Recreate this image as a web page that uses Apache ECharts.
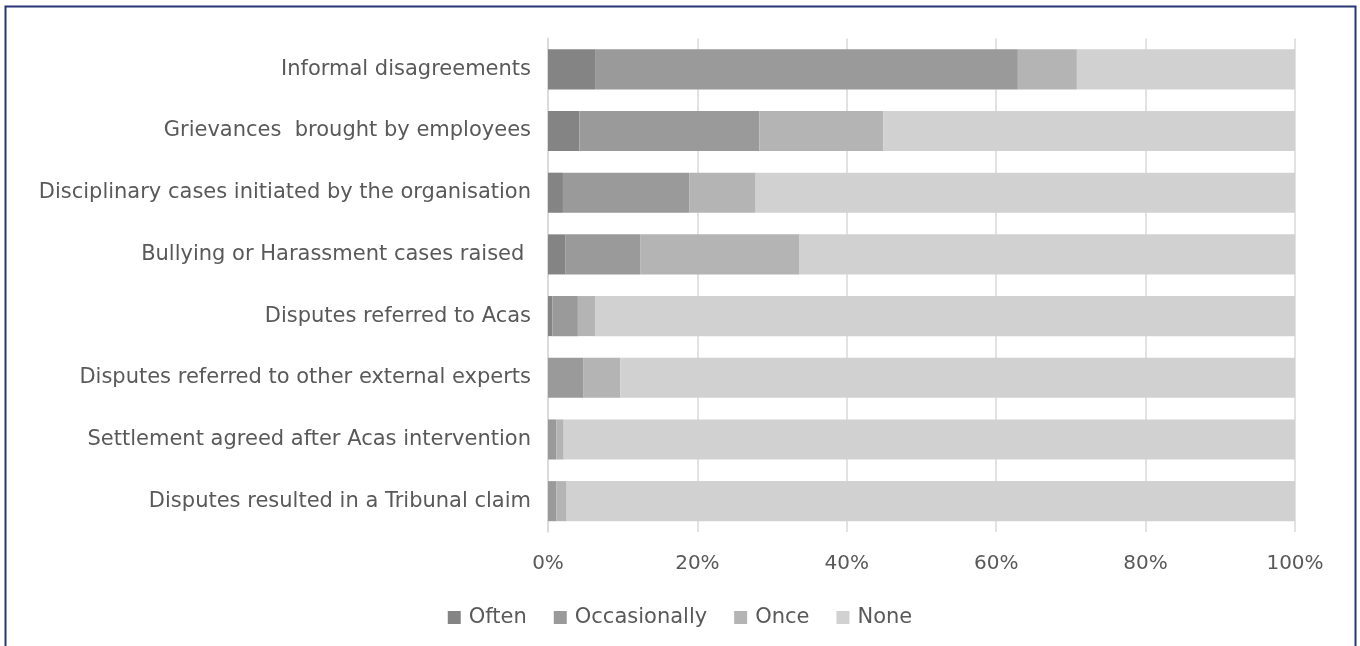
<!DOCTYPE html>
<html>
<head>
<meta charset="utf-8">
<script src="https://cdn.jsdelivr.net/npm/echarts@6/dist/echarts.min.js"></script>
<style>
html,body{margin:0;padding:0;background:#fff;}
#chart{width:1360px;height:646px;}
</style>
</head>
<body>
<div id="chart"></div>
<script>
const categories = [
  "Informal disagreements",
  "Grievances  brought by employees",
  "Disciplinary cases initiated by the organisation",
  "Bullying or Harassment cases raised ",
  "Disputes referred to Acas",
  "Disputes referred to other external experts",
  "Settlement agreed after Acas intervention",
  "Disputes resulted in a Tribunal claim"
];
const often        = [6.3, 4.2, 2.0, 2.3, 0.6, 0.0, 0.0, 0.0];
const occasionally = [56.6, 24.1, 16.9, 10.1, 3.4, 4.7, 1.1, 1.1];
const once         = [7.9, 16.6, 8.9, 21.2, 2.3, 5.0, 1.0, 1.4];
const none         = [29.2, 55.1, 72.2, 66.4, 93.7, 90.3, 97.9, 97.5];
const tickLabels = ["0%", "20%", "40%", "60%", "80%", "100%"];

const seriesNames = ["Often", "Occasionally", "Once", "None"];
const seriesData = [often, occasionally, once, none];
const colors = ["#848484", "#9a9a9a", "#b4b4b4", "#d1d1d1"];

const chart = echarts.init(document.getElementById('chart'));
const font = "'DejaVu Sans', sans-serif";
chart.setOption({
  animation: false,
  color: colors,
  grid: { left: 548, right: 65, top: 38.5, bottom: 114, containLabel: false },
  legend: {
    bottom: 13,
    left: 'center',
    icon: 'rect',
    itemWidth: 13,
    itemHeight: 13,
    itemGap: 27,
    textStyle: { color: '#595959', fontSize: 21, fontFamily: font, padding: [0, 0, 0, 3] },
    data: seriesNames
  },
  xAxis: {
    type: 'value',
    min: 0,
    max: 100,
    interval: 20,
    axisLine: { show: false },
    axisTick: { show: false },
    splitLine: { show: true, lineStyle: { color: '#d9d9d9', width: 1.5 } },
    axisLabel: {
      margin: 22,
      color: '#595959',
      fontSize: 20,
      fontFamily: font,
      formatter: function (v) { return tickLabels[Math.round(v / 20)]; }
    }
  },
  yAxis: {
    type: 'category',
    inverse: true,
    data: categories,
    axisLine: { show: true, lineStyle: { color: '#d9d9d9', width: 1.5 } },
    axisTick: { show: false },
    axisLabel: {
      margin: 17,
      color: '#595959',
      fontSize: 21,
      fontFamily: font
    }
  },
  series: seriesNames.map((name, i) => ({
    name: name,
    type: 'bar',
    stack: 'total',
    barCategoryGap: '35%',
    data: seriesData[i],
    itemStyle: { color: colors[i] }
  })),
  graphic: [{
    type: 'rect',
    shape: { x: 5.5, y: 6.5, width: 1350, height: 660 },
    style: { fill: 'none', stroke: '#283575', lineWidth: 2 },
    silent: true
  }]
});
</script>
</body>
</html>
